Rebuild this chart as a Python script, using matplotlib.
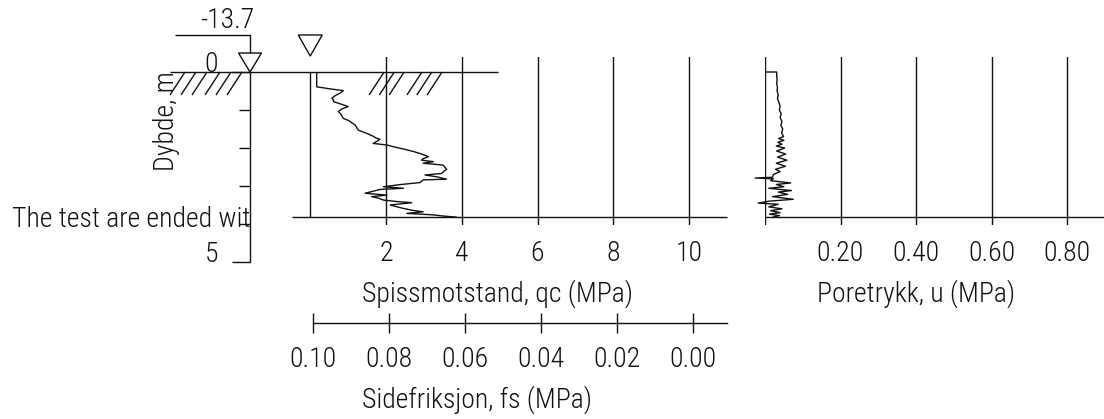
import matplotlib
matplotlib.use("Agg")
import matplotlib.pyplot as plt
from matplotlib import font_manager as fm

# ---------------------------------------------------------------- data
# Cone resistance qc (MPa) against depth (m)
qc_depth = [0.00, 0.39, 0.45, 0.49, 0.55, 0.62, 0.69, 0.74, 0.78, 0.85,
            0.91, 0.97, 1.04, 1.10, 1.16, 1.22, 1.28, 1.34, 1.39, 1.45,
            1.53, 1.58, 1.63, 1.70, 1.74, 1.77, 1.83, 1.88, 1.92, 1.98,
            2.04, 2.10, 2.16, 2.20, 2.23, 2.28, 2.32, 2.36, 2.40, 2.45,
            2.50, 2.56, 2.62, 2.67, 2.71, 2.76, 2.82, 2.84, 2.91, 2.96,
            3.02, 3.06, 3.09, 3.14, 3.19, 3.24, 3.28, 3.32, 3.37, 3.41,
            3.44, 3.50, 3.55, 3.59, 3.64, 3.68, 3.72, 3.76, 3.79, 3.82]
qc_value = [0.17, 0.17, 0.57, 0.87, 0.80, 0.66, 0.57, 0.62, 0.61, 0.83,
            1.00, 0.84, 0.74, 0.80, 0.84, 0.87, 1.02, 1.10, 1.18, 1.22,
            1.27, 1.40, 1.53, 1.68, 1.74, 1.84, 1.75, 1.66, 2.02, 2.25,
            2.52, 2.75, 2.94, 3.05, 3.12, 2.98, 2.94, 3.25, 2.98, 3.51,
            3.55, 3.60, 3.52, 3.47, 3.03, 3.35, 3.60, 2.98, 2.90, 2.40,
            1.93, 2.46, 1.84, 1.65, 1.45, 2.02, 1.62, 1.80, 1.93, 2.30,
            2.68, 2.11, 2.30, 2.46, 2.70, 2.98, 2.55, 3.25, 3.50, 3.87]

# Pore pressure u (MPa) against depth (m)
u_depth = [0.00, 0.00, 0.10, 0.20, 0.30, 0.40, 0.50, 0.60, 0.70, 0.80,
           0.90, 1.00, 1.10, 1.20, 1.30, 1.40, 1.50, 1.60, 1.70, 1.75,
           1.80, 1.85, 1.90, 1.95, 2.00, 2.08, 2.16, 2.24, 2.32, 2.40,
           2.48, 2.56, 2.62, 2.70, 2.77, 2.79, 2.81, 2.86, 2.92, 2.96,
           3.02, 3.06, 3.12, 3.16, 3.22, 3.28, 3.35, 3.40, 3.45, 3.48,
           3.55, 3.60, 3.65, 3.70, 3.74, 3.78, 3.82]
u_value = [0.000, 0.031, 0.031, 0.032, 0.031, 0.033, 0.032, 0.035, 0.033, 0.037,
           0.040, 0.038, 0.043, 0.040, 0.045, 0.042, 0.047, 0.044, 0.049, 0.036,
           0.050, 0.034, 0.045, 0.030, 0.052, 0.031, 0.055, 0.033, 0.058, 0.030,
           0.054, 0.028, 0.040, 0.022, 0.020, -0.026, 0.022, 0.015, 0.068, 0.030,
           0.050, 0.010, 0.070, 0.035, 0.060, 0.020, 0.075, 0.010, -0.018, 0.035,
           0.010, 0.045, 0.015, 0.040, 0.012, 0.038, 0.020]

qc_ticks = [2, 4, 6, 8, 10]
qc_labels = ["2", "4", "6", "8", "10"]
u_ticks = [0.0, 0.2, 0.4, 0.6, 0.8]
u_labels = ["", "0.20", "0.40", "0.60", "0.80"]
fs_ticks = [0.10, 0.08, 0.06, 0.04, 0.02, 0.00]
fs_labels = ["0.10", "0.08", "0.06", "0.04", "0.02", "0.00"]
depth_major = [0, 5]
depth_major_labels = ["0", "5"]
depth_minor = [1, 2, 3, 4]
ground_level = "-13.7"
end_depth = qc_depth[-1]

# ---------------------------------------------------------------- style
names = {f.name for f in fm.fontManager.ttflist}
FONT, WEIGHT = "DejaVu Sans", "normal"
for cand, wt in (("Liberation Sans Narrow", "normal"), ("Roboto Condensed", "light"),
                 ("Roboto", "light")):
    if cand in names:
        FONT, WEIGHT = cand, wt
        break
plt.rcParams["font.family"] = [FONT, "DejaVu Sans"]
plt.rcParams["font.weight"] = WEIGHT
plt.rcParams["font.size"] = 20
INK = "#111111"
LW = 1.0

W, H = 1104, 419
fig = plt.figure(figsize=(W / 100, H / 100), dpi=100, facecolor="white")

PX_PER_M = 38.0
Y_SURFACE = 72.0


def ypx(d):
    return Y_SURFACE + d * PX_PER_M


def box(x0, y0, x1, y1):
    return [x0 / W, 1 - y1 / H, (x1 - x0) / W, (y1 - y0) / H]


GRID_TOP, GRID_BOT = -0.395, 4.03
line_kw = dict(color=INK, lw=LW, clip_on=False, solid_capstyle="butt")

# ---------------------------------------------------------------- qc panel
QC_X0, QC_X10 = 310.25, 689.0
qc_px = (QC_X10 - QC_X0) / 10.0
QC_MAX = 10.5
ax_qc = fig.add_axes(box(QC_X0, ypx(GRID_TOP), QC_X0 + QC_MAX * qc_px, ypx(GRID_BOT)))
ax_qc.set_xlim(0, QC_MAX)
ax_qc.set_ylim(GRID_BOT, GRID_TOP)
ax_qc.set_facecolor("none")
for s in ax_qc.spines.values():
    s.set_visible(False)
ax_qc.set_xticks(qc_ticks, qc_labels)
ax_qc.tick_params(axis="x", length=0, pad=11, colors=INK)
ax_qc.tick_params(axis="y", left=False, labelleft=False)
ax_qc.grid(axis="x", color=INK, lw=LW)

ax_qc.plot([-3.70, 4.95], [0, 0], **line_kw)                 # terrain surface
ax_qc.plot([-0.48, 11.0], [end_depth, end_depth], **line_kw)  # end of sounding
ax_qc.plot([0, 0], [0, end_depth], **line_kw)                 # qc = 0
ax_qc.plot(qc_value, qc_depth, **line_kw)

hatch_dx = 15 / qc_px
hatch_dd = 23 / PX_PER_M
for xt in (1.95, 2.22, 2.48, 2.95, 3.21, 3.48):
    ax_qc.plot([xt, xt - hatch_dx], [0, hatch_dd], **line_kw)

tri_w = 12 / qc_px
ax_qc.fill([-tri_w, tri_w, 0], [-0.974, -0.974, -0.42], facecolor="white",
           edgecolor=INK, lw=LW, clip_on=False)
ax_qc.text((362 - QC_X0) / qc_px, (302 - Y_SURFACE) / PX_PER_M,
           "Spissmotstand, qc (MPa)", ha="left", va="baseline", color=INK)

# ---------------------------------------------------------------- depth axis
D_X0, D_X1 = 250.0, 310.0
d_px = D_X1 - D_X0
ax_d = fig.add_axes(box(D_X0, ypx(0), D_X1, ypx(5)))
ax_d.set_xlim(0, 1)
ax_d.set_ylim(5, 0)
ax_d.set_facecolor("none")
for k in ("top", "right", "bottom"):
    ax_d.spines[k].set_visible(False)
ax_d.spines["left"].set_color(INK)
ax_d.spines["left"].set_linewidth(LW)
ax_d.set_xticks([])
ax_d.set_yticks(depth_major, depth_major_labels)
ax_d.set_yticks(depth_minor, minor=True)
ax_d.tick_params(axis="y", which="major", length=13, width=LW, pad=10, colors=INK)
ax_d.tick_params(axis="y", which="minor", length=8, width=LW, colors=INK)
for lab in ax_d.get_yticklabels():
    lab.set_va("baseline")

ax_d.plot([-1.25, 0, 0], [-0.974, -0.974, -0.5], **line_kw)
tri_d = 11.5 / d_px
ax_d.fill([-tri_d, tri_d, 0], [-0.5, -0.5, 0], facecolor="white",
          edgecolor=INK, lw=LW, clip_on=False)
ax_d.text((227 - D_X0) / d_px, (28 - Y_SURFACE) / PX_PER_M, ground_level,
          ha="center", va="baseline", color=INK)
for xt in (185, 196, 207, 220, 231, 242):
    x = (xt - D_X0) / d_px
    ax_d.plot([x, x - 15 / d_px], [0, hatch_dd], **line_kw)
ax_d.text((166 - D_X0) / d_px, (121 - Y_SURFACE) / PX_PER_M, "Dybde, m",
          rotation=90, ha="center", va="center", color=INK)
ax_d.text((12 - D_X0) / d_px, (227 - Y_SURFACE) / PX_PER_M,
          "The test are ended wit", ha="left", va="baseline", color=INK)

# ---------------------------------------------------------------- u panel
U_X0 = 765.0
u_px = 75.5 / 0.2
u_max = (W - U_X0) / u_px
ax_u = fig.add_axes(box(U_X0, ypx(GRID_TOP), W, ypx(GRID_BOT)))
ax_u.set_xlim(0, u_max)
ax_u.set_ylim(GRID_BOT, GRID_TOP)
ax_u.set_facecolor("none")
for s in ax_u.spines.values():
    s.set_visible(False)
ax_u.set_xticks(u_ticks, u_labels)
ax_u.tick_params(axis="x", length=0, pad=11, colors=INK)
ax_u.tick_params(axis="y", left=False, labelleft=False)
ax_u.grid(axis="x", color=INK, lw=LW)
ax_u.plot([0, u_max], [end_depth, end_depth], **line_kw)
ax_u.plot(u_value, u_depth, **line_kw)
ax_u.text((817 - U_X0) / u_px, (302 - Y_SURFACE) / PX_PER_M,
          "Poretrykk, u (MPa)", ha="left", va="baseline", color=INK)

# ---------------------------------------------------------------- fs scale
FS_X0, FS_X1 = 313.0, 727.0
fs_px = 3800.0
ax_fs = fig.add_axes(box(FS_X0, 312, FS_X1, 322.5))
ax_fs.set_xlim(0.10, 0.10 - (FS_X1 - FS_X0) / fs_px)
ax_fs.set_ylim(0, 1)
ax_fs.set_facecolor("none")
for k in ("top", "right", "left"):
    ax_fs.spines[k].set_visible(False)
ax_fs.spines["bottom"].set_color(INK)
ax_fs.spines["bottom"].set_linewidth(LW)
ax_fs.set_yticks([])
ax_fs.set_xticks(fs_ticks, fs_labels)
ax_fs.tick_params(axis="x", direction="inout", length=13.7, width=LW, pad=10,
                  colors=INK)
ax_fs.text(0.10 - (362 - FS_X0) / fs_px, (322.5 - 408) / 10.5,
           "Sidefriksjon, fs (MPa)", ha="left", va="baseline", color=INK)

fig.savefig("out.png", dpi=100, facecolor="white")
